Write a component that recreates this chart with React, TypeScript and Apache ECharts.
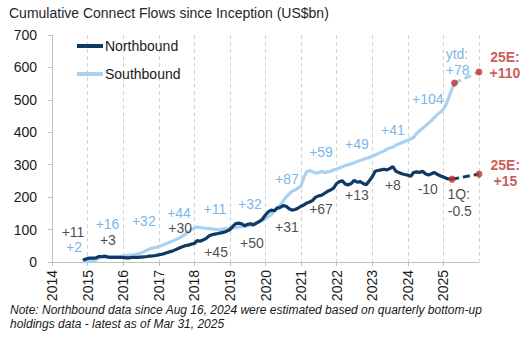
import React, { useEffect, useRef } from "react";
import * as echarts from "echarts";

// ---------- DATA ----------
const inceptionDate = "2014-11-17";
const firstMonth = "2014-11"; // monthly series below start at this month-end

// Northbound cumulative flows (US$bn), month-end, Nov 2014 .. Mar 2025
const nbInception = 4;
const nbMonthly = [
  8, 11,
  12, 12, 13, 17, 17, 18, 15, 14, 14, 14, 14, 14,
  13, 13, 14, 14, 14, 15, 16, 17, 18, 19, 20, 22,
  24, 26, 29, 32, 35, 39, 43, 47, 50, 52, 55, 57,
  66, 64, 68, 72, 80, 84, 86, 88, 90, 92, 95, 100,
  110, 118, 120, 118, 112, 116, 118, 114, 120, 125, 132, 145,
  155, 160, 158, 166, 168, 174, 172, 164, 160, 162, 166, 172,
  176, 182, 185, 190, 200, 204, 206, 212, 218, 222, 228, 242,
  248, 250, 240, 238, 242, 252, 246, 248, 242, 238, 250, 262,
  280, 282, 284, 286, 284, 288, 294, 280, 276, 272, 270, 268,
  264, 276, 278, 276, 280, 272, 268, 272, 276, 270, 266, 262,
  258, 256, 255.5,
];

// Southbound cumulative flows (US$bn), month-end, Nov 2014 .. Mar 2025
const sbInception = 0;
const sbMonthly = [
  1, 2,
  3, 4, 6, 13, 14, 15, 16, 16, 17, 17, 17, 18,
  20, 21, 22, 23, 25, 28, 32, 36, 40, 43, 45, 48,
  51, 54, 58, 62, 66, 70, 74, 80, 86, 92, 100, 104,
  108, 106, 105, 104, 103, 102, 101, 100, 101, 102, 103, 104,
  105, 106, 108, 109, 110, 111, 113, 118, 121, 124, 128, 134,
  140, 146, 156, 168, 176, 188, 200, 210, 218, 222, 228, 234,
  262, 278, 282, 278, 274, 276, 280, 276, 278, 280, 284, 286,
  290, 294, 298, 300, 303, 306, 310, 313, 316, 320, 322, 326,
  330, 334, 338, 342, 348, 352, 354, 360, 364, 368, 372, 375,
  380, 384, 396, 405, 412, 420, 428, 436, 446, 455, 462, 470,
  488, 510, 535,
];
const sbLatestDate = "2025-04-25";
const sbLatest = 552;

const nbLatestDate = "2025-03-31";
const nbLatest = 255.5;

const estimateDate = "2025-12-31";
const nbEstimate = 271; // 25E: +15
const sbEstimate = 586; // 25E: +110

const yearTicks = [2014, 2015, 2016, 2017, 2018, 2019, 2020, 2021, 2022, 2023, 2024, 2025];

// Annotations: [text, year position, value position]
const nbAnnotations: [string, number, number][] = [
  ["+11", 2014.59, 92],
  ["+3", 2015.57, 68],
  ["+30", 2017.6, 105],
  ["+45", 2018.61, 31],
  ["+50", 2019.62, 59],
  ["+31", 2020.6, 108],
  ["+67", 2021.56, 163],
  ["+13", 2022.57, 207],
  ["+8", 2023.58, 237],
  ["-10", 2024.56, 225],
  ["1Q:", 2025.43, 210],
  ["-0.5", 2025.46, 157],
];
const sbAnnotations: [string, number, number][] = [
  ["+2", 2014.62, 45],
  ["+16", 2015.56, 117],
  ["+32", 2016.58, 126],
  ["+44", 2017.57, 151],
  ["+11", 2018.58, 163],
  ["+32", 2019.56, 179],
  ["+87", 2020.6, 256],
  ["+59", 2021.56, 339],
  ["+49", 2022.57, 364],
  ["+41", 2023.58, 407],
  ["+104", 2024.56, 503],
  ["ytd:", 2025.38, 641],
  ["+78", 2025.4, 592],
];
const estAnnotations: [string, number, number][] = [
  ["25E:\n+110", 2026.73, 607],
  ["25E:\n+15", 2026.74, 274],
];

const titleText = "Cumulative Connect Flows since Inception (US$bn)";
const noteText =
  "Note: Northbound data since Aug 16, 2024 were estimated based on quarterly bottom-up\nholdings data - latest as of Mar 31, 2025";

// ---------- HELPERS ----------
function yearFrac(d: string): number {
  const [y, m, dd] = d.split("-").map(Number);
  const start = Date.UTC(y, 0, 1);
  const end = Date.UTC(y + 1, 0, 1);
  return y + (Date.UTC(y, m - 1, dd) - start) / (end - start);
}
function monthEnds(start: string, n: number): number[] {
  const [y0, m0] = start.split("-").map(Number);
  const out: number[] = [];
  for (let i = 0; i < n; i++) {
    const y = y0 + Math.floor((m0 - 1 + i) / 12);
    const m = ((m0 - 1 + i) % 12) + 1;
    const last = new Date(Date.UTC(y, m, 0));
    const ds = `${y}-${m}-${last.getUTCDate()}`;
    out.push(yearFrac(ds));
  }
  return out;
}

const FONT = "'Liberation Sans', Arial, Helvetica, sans-serif";
const NB_COLOR = "#0c3a63";
const SB_COLOR = "#a9d2f2";
const SB_TEXT = "#56a2e2";
const NB_TEXT = "#1a1a1a";
const RED = "#c0302b";
const AXIS_GRAY = "#bfbfbf";

export default function App() {
  const ref = useRef<HTMLDivElement>(null);

  useEffect(() => {
    if (!ref.current) return;
    const chart = echarts.init(ref.current, undefined, { renderer: "svg" });

    const nbX = monthEnds(firstMonth, nbMonthly.length);
    const sbX = monthEnds(firstMonth, sbMonthly.length);
    const nbData = [[yearFrac(inceptionDate), nbInception], ...nbMonthly.map((v, i) => [nbX[i], v])];
    const sbData = [
      [yearFrac(inceptionDate), sbInception],
      ...sbMonthly.map((v, i) => [sbX[i], v]),
      [yearFrac(sbLatestDate), sbLatest],
    ];
    const nbEst = [
      [yearFrac(nbLatestDate), nbLatest],
      [yearFrac(estimateDate) + 1 / 365, nbEstimate],
    ];
    const sbEst = [
      [yearFrac(sbLatestDate), sbLatest],
      [yearFrac(estimateDate) + 1 / 365, sbEstimate],
    ];

    const labelSeries = (arr: [string, number, number][], color: string, bold: boolean, lh: number) => ({
      type: "scatter" as const,
      silent: true,
      clip: false,
      symbolSize: 1,
      itemStyle: { color: "rgba(0,0,0,0)" },
      z: 20,
      data: arr.map(([t, x, y]) => ({ value: [x, y], name: t })),
      label: {
        show: true,
        position: "inside" as const,
        formatter: (p: any) => p.name,
        color,
        fontSize: 14,
        fontWeight: bold ? ("bold" as const) : ("normal" as const),
        fontFamily: FONT,
        lineHeight: lh,
        align: "center" as const,
      },
    });

    chart.setOption({
      animation: false,
      textStyle: { fontFamily: FONT },
      title: {
        text: titleText,
        left: 9,
        top: 6,
        padding: 0,
        textStyle: { fontSize: 14, fontWeight: "normal", color: "#262626", fontFamily: FONT },
      },
      legend: {
        orient: "vertical",
        left: 77,
        top: 39,
        padding: 0,
        itemWidth: 26,
        itemHeight: 4,
        itemGap: 14,
        icon: "rect",
        data: ["Northbound", "Southbound"],
        textStyle: { fontSize: 14, color: "#1a1a1a", fontFamily: FONT, padding: [0, 0, 0, -3] },
      },
      grid: { left: 52, right: 50, top: 35, bottom: 80 },
      xAxis: {
        type: "value",
        min: 2014,
        max: 2026,
        interval: 1,
        axisLine: { show: true, lineStyle: { color: AXIS_GRAY, width: 1 } },
        axisTick: { show: true, length: 4, lineStyle: { color: AXIS_GRAY } },
        axisLabel: {
          rotate: 90,
          margin: 8,
          fontSize: 14,
          color: "#1a1a1a",
          fontFamily: FONT,
          showMaxLabel: false,
          formatter: (v: number) => (yearTicks.includes(Math.round(v)) ? String(Math.round(v)) : ""),
        },
        splitLine: { show: true, lineStyle: { type: [4, 3], color: "#d3d3d3", width: 1 } },
      },
      yAxis: {
        type: "value",
        min: 0,
        max: 700,
        interval: 100,
        axisLine: { show: true, lineStyle: { color: AXIS_GRAY, width: 1 } },
        axisTick: { show: true, length: 4, lineStyle: { color: AXIS_GRAY } },
        axisLabel: { margin: 15, fontSize: 14, color: "#1a1a1a", fontFamily: FONT },
        splitLine: { show: false },
      },
      graphic: [
        {
          type: "text",
          left: 10,
          top: 303,
          style: {
            text: noteText,
            font: `italic 12px ${FONT}`,
            fill: "#1a1a1a",
            lineHeight: 14,
          },
        },
      ],
      series: [
        {
          name: "Southbound",
          type: "line",
          data: sbData,
          showSymbol: false,
          symbol: "none",
          lineStyle: { color: SB_COLOR, width: 3.2 },
          itemStyle: { color: SB_COLOR },
          z: 2,
        },
        {
          name: "Northbound",
          type: "line",
          data: nbData,
          showSymbol: false,
          symbol: "none",
          lineStyle: { color: NB_COLOR, width: 3.2 },
          itemStyle: { color: NB_COLOR },
          z: 3,
        },
        {
          name: "sbEst",
          type: "line",
          data: sbEst,
          showSymbol: false,
          symbol: "none",
          lineStyle: { color: SB_COLOR, width: 3, type: [7, 4] },
          z: 2,
        },
        {
          name: "nbEst",
          type: "line",
          data: nbEst,
          showSymbol: false,
          symbol: "none",
          lineStyle: { color: NB_COLOR, width: 3, type: [7, 4] },
          z: 3,
        },
        {
          name: "dots",
          type: "scatter",
          silent: true,
          clip: false,
          symbolSize: 7,
          itemStyle: { color: RED },
          z: 10,
          data: [sbEst[0], sbEst[1], nbEst[0], nbEst[1]],
        },
        labelSeries(nbAnnotations, NB_TEXT, false, 16),
        labelSeries(sbAnnotations, SB_TEXT, false, 16),
        labelSeries(estAnnotations, RED, true, 16),
      ],
    });

    return () => chart.dispose();
  }, []);

  return <div ref={ref} style={{ width: 529, height: 342, position: "absolute", left: 0, top: 0 }} />;
}
